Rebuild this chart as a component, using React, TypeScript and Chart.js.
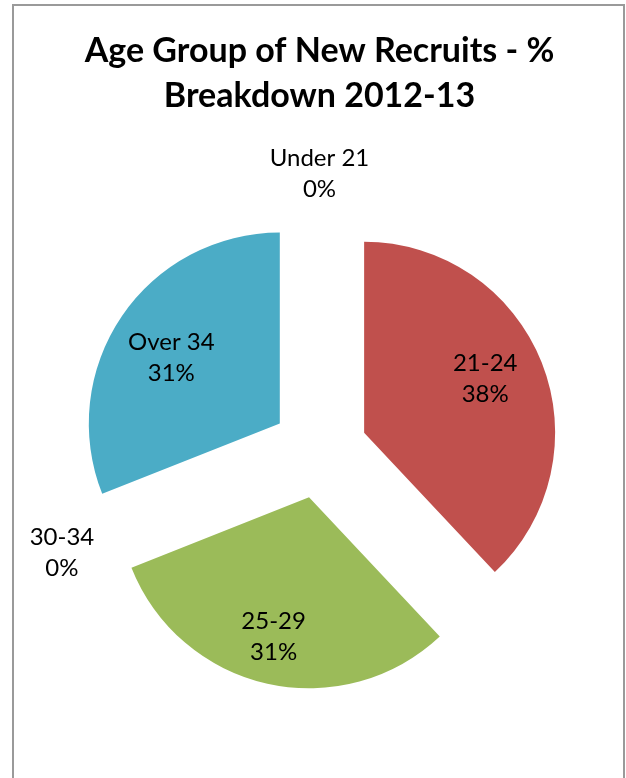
import React, { useEffect, useRef } from "react";
import { Chart, registerables } from "chart.js";

Chart.register(...registerables);

const categories = ["Under 21", "21-24", "25-29", "30-34", "Over 34"];
const percentages = [0, 38, 31, 0, 31];
const sliceColors = ["#4F81BD", "#C0504D", "#9BBB59", "#8064A2", "#4BACC6"];
const titleLines = ["Age Group of New Recruits - %", "Breakdown 2012-13"];

const FONT = "Lato, 'Open Sans', sans-serif";
const EXPLODE = 48;

const explodePlugin = {
  id: "explode",
  afterDatasetUpdate(chart: any, args: any) {
    const meta = chart.getDatasetMeta(args.index);
    meta.data.forEach((arc: any) => {
      const mid = (arc.startAngle + arc.endAngle) / 2;
      arc.x += Math.cos(mid) * EXPLODE;
      arc.y += Math.sin(mid) * EXPLODE;
    });
  },
};

const insideFactor = [0.7, 0.695, 0.75, 0.7, 0.665];
const angleShift = [0, -0.045, 0.03, 0, -0.05];

const labelPlugin = {
  id: "sliceLabels",
  afterDatasetsDraw(chart: any) {
    const ctx = chart.ctx;
    const meta = chart.getDatasetMeta(0);
    ctx.save();
    ctx.font = `24px ${FONT}`;
    ctx.fillStyle = "#000";
    ctx.textAlign = "center";
    ctx.textBaseline = "middle";
    meta.data.forEach((arc: any, i: number) => {
      const { x, y, startAngle, endAngle, outerRadius } = arc;
      const mid = (startAngle + endAngle) / 2 + angleShift[i];
      const v = percentages[i];
      const dist = v > 0 ? outerRadius * insideFactor[i] : outerRadius + 38;
      const cx = x + Math.cos(mid) * dist;
      const cy = y + Math.sin(mid) * dist;
      ctx.fillText(categories[i], cx, cy - 15);
      ctx.fillText(`${v}%`, cx, cy + 16);
    });
    ctx.restore();
  },
};

const framePlugin = {
  id: "frame",
  beforeDraw(chart: any) {
    const ctx = chart.ctx;
    ctx.save();
    ctx.fillStyle = "#ffffff";
    ctx.fillRect(0, 0, chart.width, chart.height);
    ctx.strokeStyle = "#9a9a9a";
    ctx.lineWidth = 2;
    ctx.strokeRect(13, 5, 611, 900);
    ctx.restore();
  },
};

export default function App() {
  const ref = useRef<HTMLCanvasElement | null>(null);
  useEffect(() => {
    if (!ref.current) return;
    const chart = new Chart(ref.current, {
      type: "pie",
      data: {
        labels: categories,
        datasets: [
          {
            data: percentages,
            backgroundColor: sliceColors,
            borderWidth: 0,
            radius: 191,
          } as any,
        ],
      },
      options: {
        responsive: false,
        animation: false,
        events: [],
        layout: { padding: { left: 13, right: 0, top: 0, bottom: 7 } },
        plugins: {
          legend: { display: false },
          tooltip: { enabled: false },
          title: {
            display: true,
            text: titleLines,
            color: "#000",
            font: { family: FONT, size: 34, weight: "bold", lineHeight: 45 / 34 },
            padding: { top: 29, bottom: 0 },
          },
        },
      },
      plugins: [explodePlugin, labelPlugin, framePlugin],
    });
    return () => chart.destroy();
  }, []);
  return (
    <div style={{ position: "fixed", left: 0, top: 0, width: 626, height: 778, overflow: "hidden", background: "#fff" }}>
      <canvas ref={ref} width={626} height={789} style={{ display: "block" }} />
    </div>
  );
}
